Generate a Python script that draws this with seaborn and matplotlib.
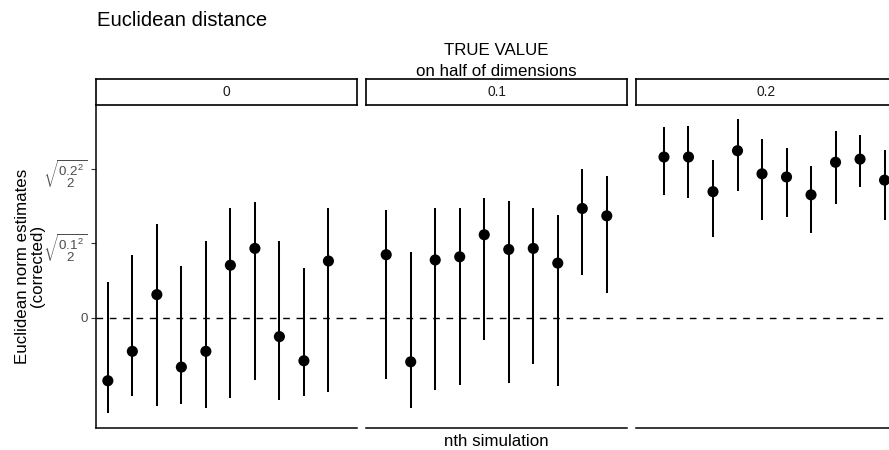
import numpy as np
import pandas as pd
import matplotlib
matplotlib.use("Agg")
import matplotlib.pyplot as plt
import seaborn as sns

# ---------------- data ----------------
true_values = ["0", "0.1", "0.2"]
nth_sim = [1, 2, 3, 4, 5, 6, 7, 8, 9, 10]

est_0 = [-0.060, -0.032, 0.022, -0.047, -0.032, 0.050, 0.066, -0.018, -0.041, 0.054]
lo_0 = [-0.091, -0.075, -0.084, -0.082, -0.086, -0.076, -0.059, -0.078, -0.075, -0.071]
hi_0 = [0.034, 0.060, 0.089, 0.049, 0.073, 0.104, 0.110, 0.073, 0.047, 0.104]

est_1 = [0.060, -0.042, 0.055, 0.058, 0.079, 0.065, 0.066, 0.052, 0.104, 0.097]
lo_1 = [-0.058, -0.086, -0.069, -0.064, -0.021, -0.062, -0.044, -0.065, 0.041, 0.024]
hi_1 = [0.103, 0.063, 0.104, 0.104, 0.114, 0.111, 0.104, 0.098, 0.142, 0.135]

est_2 = [0.153, 0.153, 0.120, 0.159, 0.137, 0.134, 0.117, 0.148, 0.151, 0.131]
lo_2 = [0.117, 0.114, 0.077, 0.121, 0.093, 0.096, 0.081, 0.108, 0.124, 0.093]
hi_2 = [0.182, 0.183, 0.150, 0.189, 0.170, 0.162, 0.144, 0.178, 0.174, 0.160]

ytick_values = [0, np.sqrt(0.1 ** 2 / 2), np.sqrt(0.2 ** 2 / 2)]
ytick_labels = ["0",
                r"$\sqrt{\genfrac{}{}{0}{0}{0.1^2}{2}}$",
                r"$\sqrt{\genfrac{}{}{0}{0}{0.2^2}{2}}$"]

title = "Euclidean distance"
top_title_1 = "TRUE VALUE"
top_title_2 = "on half of dimensions"
x_title = "nth simulation"
y_title = "Euclidean norm estimates\n(corrected)"

dodge = {"0": -1 / 3, "0.1": 0.0, "0.2": 1 / 3}

frames = []
for tv, e, lo, hi in zip(true_values, [est_0, est_1, est_2],
                         [lo_0, lo_1, lo_2], [hi_0, hi_1, hi_2]):
    frames.append(pd.DataFrame({"truth": tv, "sim": nth_sim, "est": e,
                                "lo": lo, "hi": hi}))
df = pd.concat(frames, ignore_index=True)
df["xpos"] = df["sim"] + df["truth"].map(dodge)

# ---------------- style ----------------
sns.set_theme(style="white")
plt.rcParams["font.family"] = ["Liberation Sans", "DejaVu Sans"]
plt.rcParams["mathtext.fontset"] = "custom"
plt.rcParams["mathtext.rm"] = "Liberation Sans"
plt.rcParams["mathtext.it"] = "Liberation Sans:italic"
plt.rcParams["mathtext.sf"] = "Liberation Sans"
plt.rcParams["mathtext.bf"] = "Liberation Sans:bold"

W, H = 889, 450
fig = plt.figure(figsize=(W / 100, H / 100), dpi=100)
fig.patch.set_facecolor("white")

panel_lefts = [96, 366.2, 635.8]
pw = 260.6
p_top, p_bot = 104.5, 428.0
s_top = 78.5

xmin, xmax = min(nth_sim) - 1 / 3, max(nth_sim) + 1 / 3
xpad = 0.05 * (xmax - xmin)
ymin, ymax = df["lo"].min(), df["hi"].max()
ypad = 0.05 * (ymax - ymin)

for i, tv in enumerate(true_values):
    l = panel_lefts[i]
    ax = fig.add_axes([l / W, (H - p_bot) / H, pw / W, (p_bot - p_top) / H])
    sub = df[df["truth"] == tv]
    ax.axhline(0, color="black", lw=1.0, linestyle=(0, (4.8, 4.8)), zorder=1)
    ax.vlines(sub["xpos"], sub["lo"], sub["hi"], color="black", lw=1.45, zorder=2)
    sns.scatterplot(data=sub, x="xpos", y="est", ax=ax, color="black", s=64,
                    edgecolor="none", linewidth=0, zorder=3, legend=False)
    ax.set_xlim(xmin - xpad, xmax + xpad)
    ax.set_ylim(ymin - ypad, ymax + ypad)
    ax.set_xlabel("")
    ax.set_ylabel("")
    ax.set_xticks([])
    for s in ["top", "right"]:
        ax.spines[s].set_visible(False)
    ax.spines["bottom"].set_color("black")
    ax.spines["bottom"].set_linewidth(1.1)
    if i == 0:
        ax.spines["left"].set_color("black")
        ax.spines["left"].set_linewidth(1.1)
        ax.set_yticks(ytick_values)
        ax.set_yticklabels(ytick_labels)
        ax.tick_params(axis="y", left=True, length=3.5, width=0.8, color="#333333",
                       labelsize=9.6, labelcolor="#4D4D4D", pad=2)
    else:
        ax.spines["left"].set_visible(False)
        ax.set_yticks([])
    ax.set_facecolor("white")

    # strip
    sax = fig.add_axes([l / W, (H - p_top) / H, pw / W, (p_top - s_top) / H])
    sax.set_xticks([])
    sax.set_yticks([])
    sax.set_facecolor("white")
    for s in sax.spines.values():
        s.set_visible(True)
        s.set_color("black")
        s.set_linewidth(1.2)
    sax.text(0.5, 0.5, tv, ha="center", va="center", fontsize=9.9,
             color="#1A1A1A", transform=sax.transAxes)

center_x = (panel_lefts[0] + panel_lefts[2] + pw) / 2 / W
fig.text(97 / W, 1 - 26 / H, title, ha="left", va="baseline", fontsize=14.6,
         color="black")
fig.text(center_x, 1 - 55 / H, top_title_1, ha="center", va="baseline",
         fontsize=12.2, color="black")
fig.text(center_x, 1 - 76 / H, top_title_2, ha="center", va="baseline",
         fontsize=12.2, color="black")
fig.text(center_x, 1 - 446 / H, x_title, ha="center", va="baseline",
         fontsize=12.2, color="black")
fig.text(30.5 / W, 1 - ((p_top + p_bot) / 2) / H, y_title, ha="center",
         va="center", rotation=90, fontsize=12.2, color="black", linespacing=1.0)

fig.savefig("out.png", dpi=100, facecolor="white")
